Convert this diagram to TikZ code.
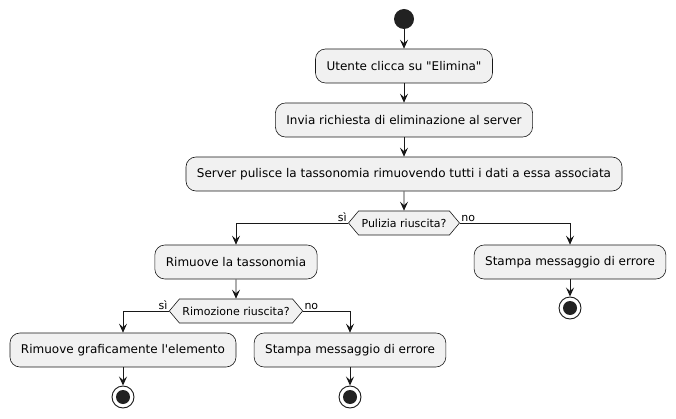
\documentclass[tikz,border=0pt]{standalone}
\usepackage{fontspec}
\setmainfont{DejaVu Sans}[Ligatures=TeXOff]
\usetikzlibrary{arrows.meta,shapes.symbols}
\definecolor{actfill}{HTML}{F1F1F1}
\definecolor{actline}{HTML}{181818}
\definecolor{dotfill}{HTML}{222222}
\tikzset{
  act/.style={draw=actline,fill=actfill,line width=0.6pt,rounded corners=10pt,
    minimum height=34pt,inner xsep=11pt,font=\fontsize{12}{14}\selectfont},
  choice/.style={draw=actline,fill=actfill,line width=0.6pt,shape=signal,
    signal to=east and west,signal pointer angle=100,minimum height=24pt,
    inner xsep=3pt,inner ysep=2pt,font=\fontsize{11}{13}\selectfont},
  begin/.style={circle,fill=dotfill,minimum size=20pt,inner sep=0pt},
  finish/.style={circle,draw=actline,fill=white,line width=0.9pt,minimum size=22pt,
    inner sep=0pt,path picture={\fill[dotfill] (path picture bounding box.center) circle (7pt);}},
  flow/.style={-{Stealth[length=9pt,width=8pt,inset=3.5pt]},draw=actline,line width=0.9pt},
  tag/.style={font=\fontsize{11}{13}\selectfont,inner sep=1pt}
}
\begin{document}
\begin{tikzpicture}[x=1pt,y=-1pt]
  \useasboundingbox (0,0) rectangle (676,419);
  \node[begin] (start) at (404,19) {};
  \node[act] (click) at (404,66) {Utente clicca su "Elimina"};
  \node[act] (request) at (404,120) {Invia richiesta di eliminazione al server};
  \node[act] (clean) at (404,174) {Server pulisce la tassonomia rimuovendo tutti i dati a essa associata};
  \node[choice] (cleanok) at (404,223) {Pulizia riuscita?};
  \node[act] (remove) at (236,262) {Rimuove la tassonomia};
  \node[act] (error1) at (570,262) {Stampa messaggio di errore};
  \node[finish] (end1) at (570,308) {};
  \node[choice] (removeok) at (236,311) {Rimozione riuscita?};
  \node[act] (redraw) at (123,350) {Rimuove graficamente l'elemento};
  \node[act] (error2) at (350,350) {Stampa messaggio di errore};
  \node[finish] (end2) at (123,397) {};
  \node[finish] (end3) at (350,397) {};
  \begin{scope}[flow]
    \draw (start) -- (click);
    \draw (click) -- (request);
    \draw (request) -- (clean);
    \draw (clean) -- (cleanok);
    \draw (cleanok.west) -| (remove.north) node[pos=0,tag,anchor=south east] {sì};
    \draw (cleanok.east) -| (error1.north) node[pos=0,tag,anchor=south west] {no};
    \draw (error1) -- (end1);
    \draw (remove) -- (removeok);
    \draw (removeok.west) -| (redraw.north) node[pos=0,tag,anchor=south east] {sì};
    \draw (removeok.east) -| (error2.north) node[pos=0,tag,anchor=south west] {no};
    \draw (redraw) -- (end2);
    \draw (error2) -- (end3);
  \end{scope}
\end{tikzpicture}
\end{document}
